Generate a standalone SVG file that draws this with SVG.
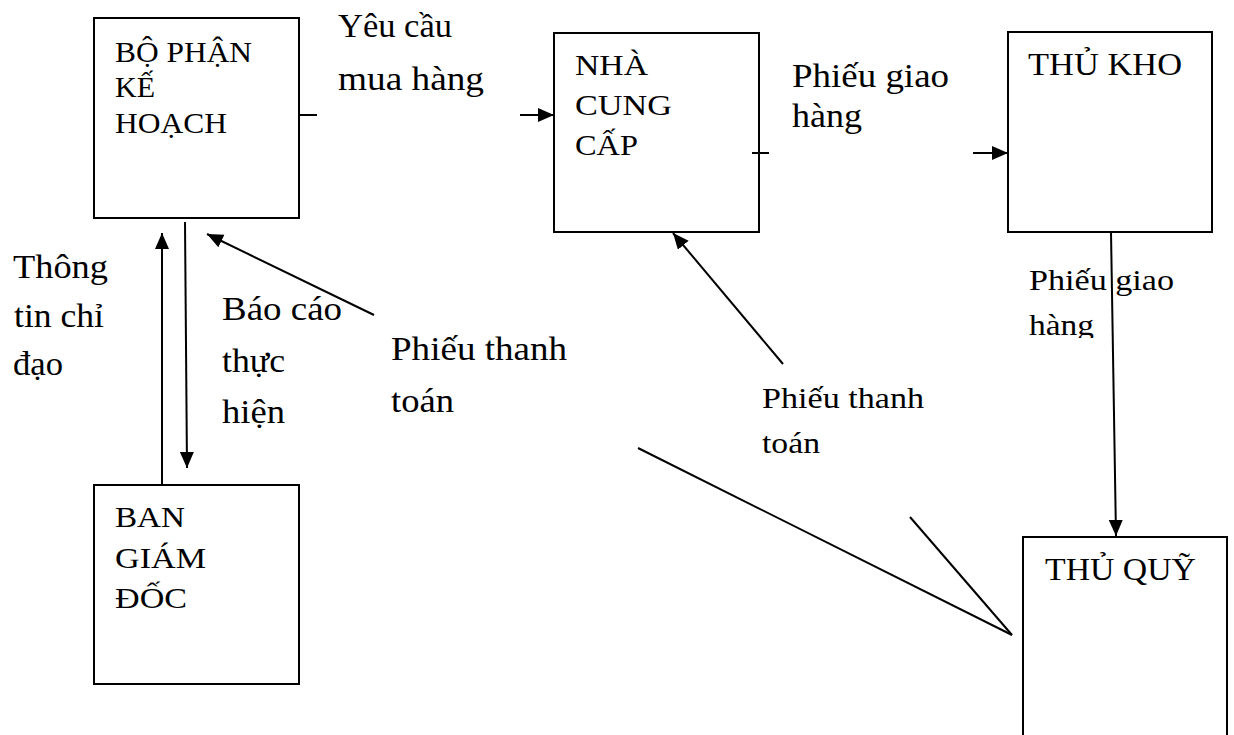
<svg xmlns="http://www.w3.org/2000/svg" width="1234" height="735" viewBox="0 0 1234 735">
  <style>
    .box { fill: #fff; stroke: #000; stroke-width: 2; }
    .t { font-family: "Liberation Serif", "Times New Roman", serif; fill: #000; }
    .bt { font-size: 30px; }
    .bt2 { font-size: 32px; }
    .lb { font-size: 33px; }
    .ls { font-size: 30px; }
    .ln { stroke: #000; stroke-width: 2; fill: none; }
    .arr { marker-end: url(#head); }
  </style>
  <defs>
    <marker id="head" markerUnits="userSpaceOnUse" markerWidth="17" markerHeight="15" refX="16" refY="7" orient="auto">
      <path d="M0,0 L16,7 L0,14 Z" fill="#000"/>
    </marker>
    <clipPath id="cutLabel">
      <rect x="1020" y="240" width="200" height="98"/>
    </clipPath>
  </defs>
  <rect width="1234" height="735" fill="#fff"/>

  <!-- nodes -->
  <g id="bo-phan-ke-hoach">
    <rect class="box" x="94" y="18" width="205" height="200"/>
    <text class="t bt" x="115" y="62" textLength="137" lengthAdjust="spacingAndGlyphs">BỘ PHẬN</text>
    <text class="t bt" x="115" y="97" textLength="40" lengthAdjust="spacingAndGlyphs">KẾ</text>
    <text class="t bt" x="115" y="133" textLength="112" lengthAdjust="spacingAndGlyphs">HOẠCH</text>
  </g>
  <g id="nha-cung-cap">
    <rect class="box" x="554" y="33" width="205" height="199"/>
    <text class="t bt" x="575" y="75" textLength="73" lengthAdjust="spacingAndGlyphs">NHÀ</text>
    <text class="t bt" x="575" y="115" textLength="97" lengthAdjust="spacingAndGlyphs">CUNG</text>
    <text class="t bt" x="575" y="155" textLength="63" lengthAdjust="spacingAndGlyphs">CẤP</text>
  </g>
  <g id="thu-kho">
    <rect class="box" x="1008" y="32" width="204" height="200"/>
    <text class="t bt2" x="1028" y="75" textLength="154" lengthAdjust="spacingAndGlyphs">THỦ KHO</text>
  </g>
  <g id="ban-giam-doc">
    <rect class="box" x="94" y="485" width="205" height="199"/>
    <text class="t bt" x="115" y="527" textLength="70" lengthAdjust="spacingAndGlyphs">BAN</text>
    <text class="t bt" x="115" y="568" textLength="91" lengthAdjust="spacingAndGlyphs">GIÁM</text>
    <text class="t bt" x="115" y="608" textLength="72" lengthAdjust="spacingAndGlyphs">ĐỐC</text>
  </g>
  <g id="thu-quy">
    <rect class="box" x="1023" y="537" width="204" height="210"/>
    <text class="t bt2" x="1045" y="580" textLength="151" lengthAdjust="spacingAndGlyphs">THỦ QUỸ</text>
  </g>

  <!-- flow labels -->
  <g id="labels">
    <text class="t lb" x="338" y="37" textLength="114" lengthAdjust="spacingAndGlyphs">Yêu cầu</text>
    <text class="t lb" x="338" y="90" textLength="146" lengthAdjust="spacingAndGlyphs">mua hàng</text>

    <text class="t lb" x="792" y="87" textLength="157" lengthAdjust="spacingAndGlyphs">Phiếu giao</text>
    <text class="t lb" x="792" y="127" textLength="70" lengthAdjust="spacingAndGlyphs">hàng</text>

    <text class="t lb" x="13" y="278" textLength="95" lengthAdjust="spacingAndGlyphs">Thông</text>
    <text class="t lb" x="14" y="327" textLength="90" lengthAdjust="spacingAndGlyphs">tin chỉ</text>
    <text class="t lb" x="13" y="375" textLength="50" lengthAdjust="spacingAndGlyphs">đạo</text>

    <text class="t lb" x="222" y="320" textLength="120" lengthAdjust="spacingAndGlyphs">Báo cáo</text>
    <text class="t lb" x="222" y="372" textLength="63" lengthAdjust="spacingAndGlyphs">thực</text>
    <text class="t lb" x="222" y="423" textLength="63" lengthAdjust="spacingAndGlyphs">hiện</text>

    <text class="t lb" x="391" y="360" textLength="176" lengthAdjust="spacingAndGlyphs">Phiếu thanh</text>
    <text class="t lb" x="391" y="412" textLength="63" lengthAdjust="spacingAndGlyphs">toán</text>

    <text class="t ls" x="762" y="408" textLength="162" lengthAdjust="spacingAndGlyphs">Phiếu thanh</text>
    <text class="t ls" x="762" y="453" textLength="58" lengthAdjust="spacingAndGlyphs">toán</text>

    <g clip-path="url(#cutLabel)">
      <text class="t ls" x="1029" y="290" textLength="145" lengthAdjust="spacingAndGlyphs">Phiếu giao</text>
      <text class="t ls" x="1029" y="335" textLength="65" lengthAdjust="spacingAndGlyphs">hàng</text>
    </g>
  </g>

  <!-- connectors -->
  <g id="connectors">
    <line class="ln" x1="299" y1="115" x2="317" y2="115"/>
    <line class="ln arr" x1="520" y1="115" x2="554" y2="115"/>
    <line class="ln" x1="752" y1="153" x2="769" y2="153"/>
    <line class="ln arr" x1="973" y1="153" x2="1008" y2="153"/>
    <line class="ln arr" x1="1111" y1="232" x2="1116" y2="536"/>
    <line class="ln arr" x1="162" y1="485" x2="162" y2="233"/>
    <line class="ln arr" x1="185" y1="222" x2="187" y2="468"/>
    <line class="ln arr" x1="374" y1="315" x2="207" y2="234"/>
    <line class="ln arr" x1="783" y1="364" x2="673" y2="233"/>
    <line class="ln" x1="638" y1="448" x2="1012" y2="635"/>
    <line class="ln" x1="910" y1="517" x2="1012" y2="635"/>
  </g>
</svg>
